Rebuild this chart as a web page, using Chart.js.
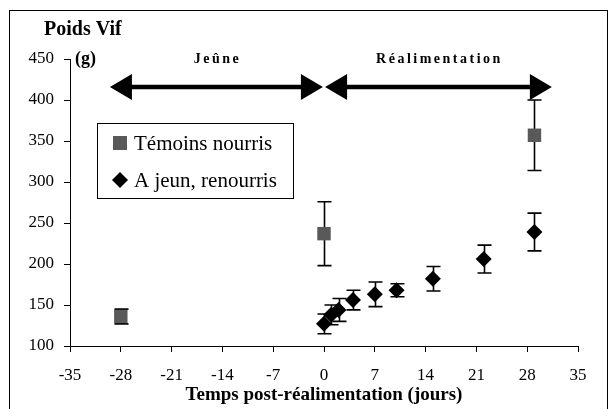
<!DOCTYPE html>
<html>
<head>
<meta charset="utf-8">
<script src="https://cdn.jsdelivr.net/npm/chart.js@4/dist/chart.umd.min.js"></script>
<style>
  html, body { margin: 0; padding: 0; background: #fff; }
  #wrap { width: 613px; height: 409px; }
</style>
</head>
<body>
<div id="wrap"><canvas id="c" width="613" height="409"></canvas></div>
<script>
// Témoins nourris (carrés gris)
const temoinsJours = [-28, 0, 29];
const temoinsPoids = [136, 237, 357];
const temoinsErr   = [9, 39, 43];

// A jeun, renourris (losanges noirs)
const jeunJours = [0, 1, 2, 4, 7, 10, 15, 22, 29];
const jeunPoids = [127, 138, 144, 156, 163, 168, 182, 206, 239];
const jeunErr   = [12, 12, 14, 12, 15, 8, 15, 17, 23];

// Axes
const xTicks = [-35, -28, -21, -14, -7, 0, 7, 14, 21, 28, 35];
const yTicks = [100, 150, 200, 250, 300, 350, 400, 450];

// Périodes (flèches) en jours, et niveau en g
const periodes = ['Jeûne', 'Réalimentation'];
const periodeDebut = [-29.5, 0.15];
const periodeFin   = [-0.15, 31.4];
const niveauFleche = 416;

const serif = '"Liberation Serif", "Times New Roman", serif';

const pts = (xs, ys) => xs.map((x, i) => ({ x, y: ys[i] }));

// Barres d'erreur, cadre, flèches, légende
const decor = {
  id: 'decor',
  beforeDraw(chart) {
    const ctx = chart.ctx;
    ctx.save();
    ctx.fillStyle = '#fff';
    ctx.fillRect(0, 0, chart.width, chart.height);
    ctx.strokeStyle = '#000';
    ctx.lineWidth = 1;
    ctx.strokeRect(9.5, 10.5, 598, 420);
    ctx.restore();
  },
  beforeDatasetsDraw(chart) {
    const ctx = chart.ctx, xs = chart.scales.x, ys = chart.scales.y;
    const errs = [temoinsErr, jeunErr];
    ctx.save();
    ctx.strokeStyle = '#000';
    ctx.lineWidth = 1.6;
    chart.data.datasets.forEach((ds, k) => {
      ds.data.forEach((p, i) => {
        const px = Math.round(xs.getPixelForValue(p.x)) + 0.5;
        const top = ys.getPixelForValue(p.y + errs[k][i]);
        const bot = ys.getPixelForValue(p.y - errs[k][i]);
        ctx.beginPath();
        ctx.moveTo(px, top); ctx.lineTo(px, bot);
        ctx.moveTo(px - 7, top); ctx.lineTo(px + 7, top);
        ctx.moveTo(px - 7, bot); ctx.lineTo(px + 7, bot);
        ctx.stroke();
      });
    });
    ctx.restore();
  },
  afterDraw(chart) {
    const ctx = chart.ctx, xs = chart.scales.x, ys = chart.scales.y;
    ctx.save();
    ctx.fillStyle = '#000';
    ctx.strokeStyle = '#000';

    // titre de l'axe Y
    ctx.textBaseline = 'middle';
    ctx.textAlign = 'left';
    ctx.font = 'bold 20px ' + serif;
    ctx.fillText('Poids Vif', 44, 30);
    ctx.font = 'bold 18px ' + serif;
    ctx.fillText('(g)', 75, ys.getPixelForValue(450));

    // flèches des périodes
    const fy = ys.getPixelForValue(niveauFleche);
    periodes.forEach((nom, i) => {
      const a = xs.getPixelForValue(periodeDebut[i]);
      const b = xs.getPixelForValue(periodeFin[i]);
      ctx.lineWidth = 4.5;
      ctx.beginPath();
      ctx.moveTo(a + 20, fy); ctx.lineTo(b - 20, fy);
      ctx.stroke();
      ctx.beginPath();
      ctx.moveTo(a, fy); ctx.lineTo(a + 22, fy - 13); ctx.lineTo(a + 22, fy + 13); ctx.closePath();
      ctx.moveTo(b, fy); ctx.lineTo(b - 22, fy - 13); ctx.lineTo(b - 22, fy + 13); ctx.closePath();
      ctx.fill();

      ctx.font = 'bold 14px ' + serif;
      ctx.letterSpacing = '2.5px';
      ctx.textAlign = 'center';
      ctx.fillText(nom, (a + b) / 2 + 1, ys.getPixelForValue(450));
      ctx.letterSpacing = '0px';
    });

    // légende
    const lx = 97, ly = 123, lw = 196, lh = 75;
    ctx.lineWidth = 1;
    ctx.fillStyle = '#fff';
    ctx.fillRect(lx, ly, lw, lh);
    ctx.strokeRect(lx + 0.5, ly + 0.5, lw, lh);
    const labels = chart.data.datasets.map(d => d.label);
    ctx.font = '21px ' + serif;
    ctx.textAlign = 'left';
    labels.forEach((t, i) => {
      const cy = ly + 20 + i * 37;
      const cx = lx + 23;
      if (i === 0) {
        ctx.fillStyle = '#595959';
        ctx.fillRect(cx - 7, cy - 7, 14, 14);
      } else {
        ctx.fillStyle = '#000';
        ctx.beginPath();
        ctx.moveTo(cx, cy - 8); ctx.lineTo(cx + 8, cy); ctx.lineTo(cx, cy + 8); ctx.lineTo(cx - 8, cy);
        ctx.closePath(); ctx.fill();
      }
      ctx.fillStyle = '#000';
      ctx.fillText(t, cx + 14, cy + 1);
    });
    ctx.restore();
  }
};

new Chart(document.getElementById('c'), {
  type: 'scatter',
  data: {
    datasets: [
      {
        label: 'Témoins nourris',
        data: pts(temoinsJours, temoinsPoids),
        pointStyle: 'rect',
        pointRadius: 9.5,
        backgroundColor: '#595959',
        borderColor: '#595959',
        borderWidth: 0
      },
      {
        label: 'A jeun, renourris',
        data: pts(jeunJours, jeunPoids),
        pointStyle: 'rectRot',
        pointRadius: 8,
        backgroundColor: '#000',
        borderColor: '#000',
        borderWidth: 0
      }
    ]
  },
  options: {
    responsive: false,
    animation: false,
    devicePixelRatio: 1,
    layout: { padding: { top: 59, right: 35, left: 0, bottom: 0 } },
    plugins: { legend: { display: false }, tooltip: { enabled: false } },
    scales: {
      x: {
        type: 'linear',
        min: -35, max: 35,
        afterBuildTicks: s => { s.ticks = xTicks.map(v => ({ value: v })); },
        afterFit: s => { s.height = 63; },
        grid: { drawOnChartArea: false, drawTicks: true, tickLength: 6, color: '#000' },
        border: { display: true, color: '#000', width: 1 },
        ticks: { color: '#000', font: { family: serif, size: 17 }, padding: 13, maxRotation: 0 },
        title: {
          display: true,
          text: 'Temps post-réalimentation (jours)',
          color: '#000',
          font: { family: serif, size: 19, weight: 'bold' },
          padding: { top: 0, bottom: 3 }
        }
      },
      y: {
        type: 'linear',
        min: 100, max: 450,
        afterBuildTicks: s => { s.ticks = yTicks.map(v => ({ value: v })); },
        afterFit: s => { s.width = 70; },
        grid: { drawOnChartArea: false, drawTicks: true, tickLength: 6, color: '#000' },
        border: { display: true, color: '#000', width: 1 },
        ticks: { color: '#000', font: { family: serif, size: 17 }, padding: 10 }
      }
    }
  },
  plugins: [decor]
});
</script>
</body>
</html>
